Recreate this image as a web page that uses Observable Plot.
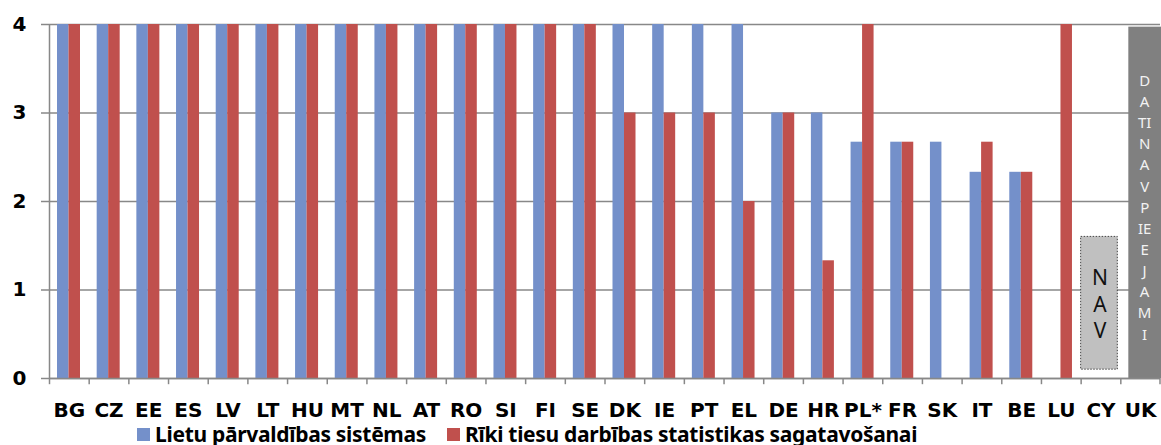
<!DOCTYPE html>
<html>
<head>
<meta charset="utf-8">
<script src="https://cdn.jsdelivr.net/npm/d3@7"></script>
<script src="https://cdn.jsdelivr.net/npm/@observablehq/plot@0.6"></script>
<style>
  html, body { margin: 0; padding: 0; background: #fff; }
  body { width: 1161px; height: 445px; overflow: hidden; position: relative; font-family: "Noto Sans", sans-serif; }
  g[aria-label="y-axis tick"] { stroke: #888; stroke-width: 1.5px; }
  #legend { position: absolute; left: 0; top: 421px; width: 1161px; height: 30px; font-weight: bold; font-size: 21px; color: #000; letter-spacing: -0.3px; }
  #legend .item { position: absolute; top: 0; display: flex; align-items: center; line-height: 26px; }
  #legend .sw { width: 13px; height: 13px; margin-right: 5px; }
</style>
</head>
<body>
<div id="chart"></div>
<div id="legend"></div>
<script>
const categories = ["BG","CZ","EE","ES","LV","LT","HU","MT","NL","AT","RO","SI","FI","SE","DK","IE","PT","EL","DE","HR","PL*","FR","SK","IT","BE","LU","CY","UK"];
const caseManagement = [4,4,4,4,4,4,4,4,4,4,4,4,4,4, 4,4,4,4,3,3,2.67,2.67,2.67,2.33,2.33,null,null,null];
const statistics     = [4,4,4,4,4,4,4,4,4,4,4,4,4,4, 3,3,3,2,3,1.33,4,2.67,null,2.67,2.33,4,null,null];
const seriesNames = ["Lietu pārvaldības sistēmas", "Rīki tiesu darbības statistikas sagatavošanai"];
const seriesColors = ["#7490CA", "#C0504D"];
const yTicks = [0, 1, 2, 3, 4];

const naCategory = "CY";
const naRange = [0.1, 1.6];
const naText = "N\nA\nV";
const ukCategory = "UK";
const ukRange = [0, 3.97];
const ukText = ["D","A","TI","N","A","V","P","IE","E","J","A","M","I"].join("\n");

const blueData = categories.map((c, i) => ({country: c, value: caseManagement[i]})).filter(d => d.value != null);
const redData = categories.map((c, i) => ({country: c, value: statistics[i]})).filter(d => d.value != null);

const W = 1161, H = 426;
const mL = 49, mR = 1;
const bw = (W - mL - mR) / categories.length;
const axisFont = "DejaVu Sans, sans-serif";

const chart = Plot.plot({
  width: W,
  height: H,
  marginLeft: mL,
  marginRight: mR,
  marginTop: 24,
  marginBottom: 48,
  style: {fontFamily: "Noto Sans, sans-serif", background: "#fff", overflow: "visible"},
  x: {domain: categories, padding: 0, round: false, axis: null, label: null},
  y: {domain: [0, 4], axis: null, label: null},
  marks: [
    Plot.gridY(yTicks, {stroke: "#888", strokeOpacity: 1, strokeWidth: 1.5}),
    Plot.barY(blueData, {x: "country", y: "value", fill: seriesColors[0], insetLeft: 8, insetRight: bw - 19.5}),
    Plot.barY(redData, {x: "country", y: "value", fill: seriesColors[1], insetLeft: 19.5, insetRight: bw - 31}),
    Plot.barY([naCategory], {x: d => d, y1: naRange[0], y2: naRange[1], fill: "#C0C0C0", stroke: "#444", strokeDasharray: "1.5,1.5", strokeWidth: 1, insetLeft: 0, insetRight: 3}),
    Plot.text([naCategory], {x: d => d, y: (naRange[0] + naRange[1]) / 2, text: () => naText, fontSize: 21, lineHeight: 1.25, fill: "#111", dx: -1}),
    Plot.barY([ukCategory], {x: d => d, y1: ukRange[0], y2: ukRange[1], fill: "#808080", insetLeft: 8, insetRight: -2}),
    Plot.text([ukCategory], {x: d => d, y: 1.95, text: () => ukText, fontSize: 15, lineHeight: 1.41, fill: "#f2f2f2", dx: 4}),
    Plot.ruleY([0], {stroke: "#888", strokeWidth: 1.5}),
    Plot.ruleX(categories, {x: d => d, dx: -bw / 2, y1: 0, y2: -0.07, stroke: "#888", strokeWidth: 1.5}),
    Plot.ruleX([categories[categories.length - 1]], {x: d => d, dx: bw / 2 - 0.5, y1: 0, y2: -0.07, stroke: "#888", strokeWidth: 1.5}),
    Plot.ruleX([categories[0]], {x: d => d, dx: -bw / 2, y1: 0, y2: 4, stroke: "#888", strokeWidth: 1.5}),
    Plot.axisY(yTicks, {tickSize: 8, tickPadding: 15, fontSize: 20, fontWeight: "bold", fontFamily: axisFont, tickFormat: d => String(d), color: "#000", label: null}),
    Plot.axisX(categories, {tickSize: 0, tickPadding: 24, fontSize: 20, fontWeight: "bold", fontFamily: axisFont, color: "#000", letterSpacing: 0.8, label: null})
  ]
});
document.getElementById("chart").appendChild(chart);

const legend = document.getElementById("legend");
const legendX = [137, 447];
seriesNames.forEach((name, i) => {
  const item = document.createElement("div");
  item.className = "item";
  item.style.left = legendX[i] + "px";
  item.innerHTML = `<span class="sw" style="background:${seriesColors[i]}"></span><span>${name}</span>`;
  legend.appendChild(item);
});
</script>
</body>
</html>
